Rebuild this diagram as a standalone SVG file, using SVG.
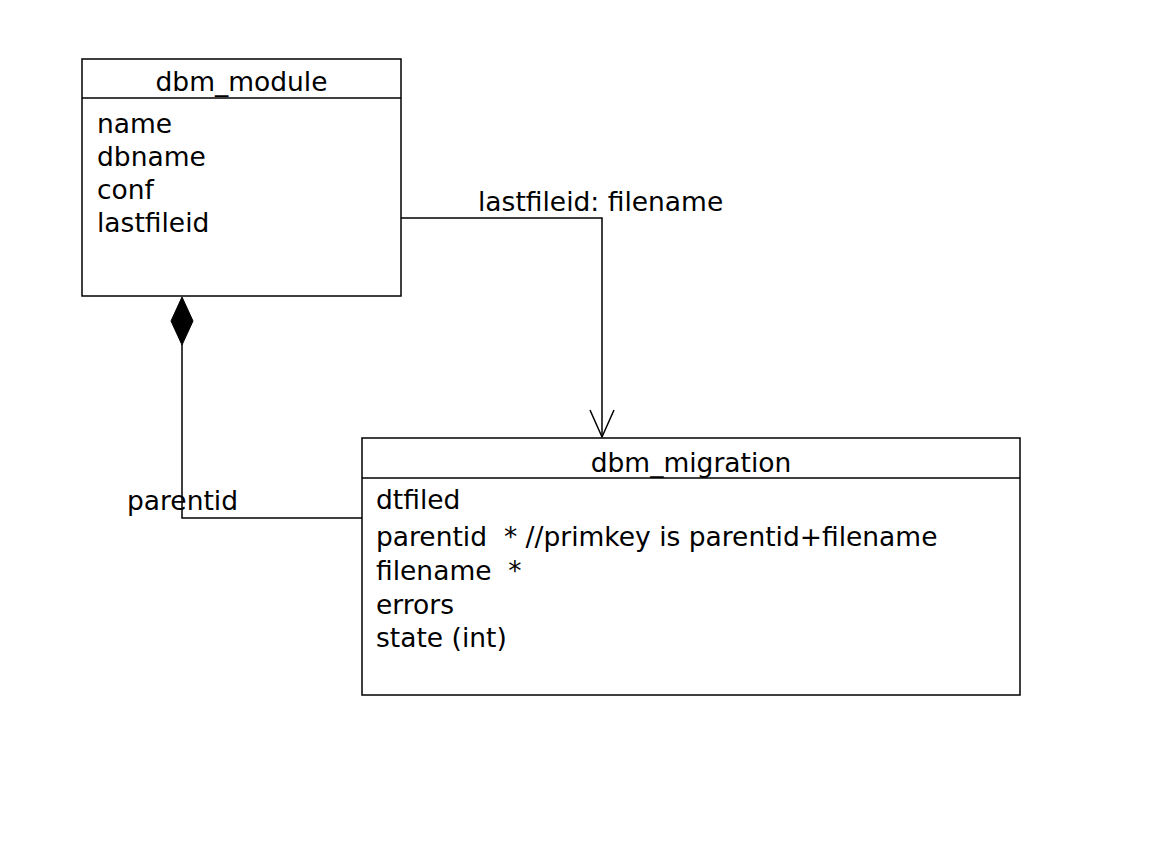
<svg xmlns="http://www.w3.org/2000/svg" width="1152" height="842" viewBox="0 0 1152 842">
<style>
text{font-family:"DejaVu Sans","Liberation Sans",sans-serif;font-size:26.5px;fill:#000;white-space:pre}
.box{fill:#fff;stroke:#000;stroke-width:1.5}
.ln{fill:none;stroke:#000;stroke-width:1.5}
.t{text-anchor:middle}
</style>
<rect width="1152" height="842" fill="#fff"/>
<g id="connectors">
<path class="ln" d="M401,218 H602 V437"/>
<path class="ln" d="M590,410 L602,437 L614,410"/>
<path class="ln" d="M182,344 V518 H362"/>
<path d="M182,297 L193,321 L182,345 L171,321 Z" fill="#000" stroke="#000"/>
<text x="478" y="211">lastfileid: filename</text>
<text x="127" y="510">parentid</text>
</g>
<g id="dbm_module">
<rect class="box" x="82" y="59" width="319" height="237"/>
<line class="ln" x1="82" y1="98" x2="401" y2="98"/>
<text class="t" x="241.5" y="91">dbm_module</text>
<text x="97" y="133">name</text>
<text x="97" y="166">dbname</text>
<text x="97" y="199">conf</text>
<text x="97" y="232">lastfileid</text>
</g>
<g id="dbm_migration">
<rect class="box" x="362" y="438" width="658" height="257"/>
<line class="ln" x1="362" y1="478" x2="1020" y2="478"/>
<text class="t" x="691" y="472">dbm_migration</text>
<text x="376" y="509">dtfiled</text>
<text x="376" y="546" xml:space="preserve">parentid  * //primkey is parentid+filename</text>
<text x="376" y="580" xml:space="preserve">filename  *</text>
<text x="376" y="614">errors</text>
<text x="376" y="647">state (int)</text>
</g>
</svg>
